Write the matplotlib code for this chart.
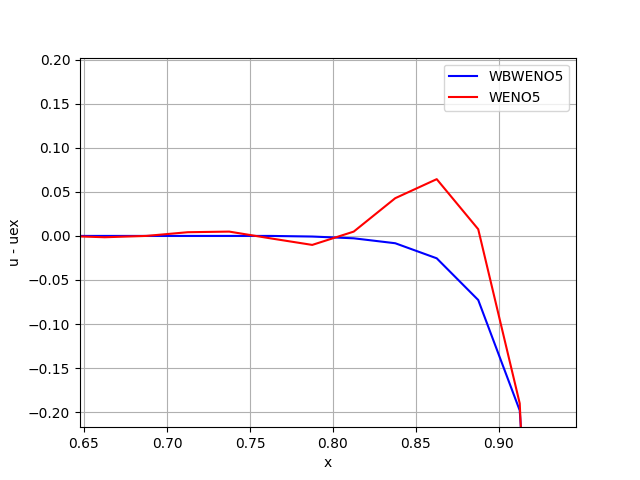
import numpy as np
import matplotlib
matplotlib.use("Agg")
import matplotlib.pyplot as plt

x = [0.6375, 0.6625, 0.6875, 0.7125, 0.7375, 0.7625, 0.7875, 0.8125, 0.8375, 0.8625, 0.8875, 0.9125, 0.9375]
err_wbweno5 = [0.0, 0.0, 0.0, 0.0, 0.0, 0.0, -0.0007, -0.0027, -0.0083, -0.0254, -0.0727, -0.198, -0.9]
err_weno5 = [0.0, -0.0015, 0.0, 0.0042, 0.0049, -0.0028, -0.0102, 0.0049, 0.0428, 0.0644, 0.0076, -0.190, -1.2]

fig, ax = plt.subplots(figsize=(6.4, 4.8), dpi=100)
ax.plot(x, err_wbweno5, color="blue", label="WBWENO5")
ax.plot(x, err_weno5, color="red", label="WENO5")
ax.set_xlim(0.6476, 0.9464)
ax.set_ylim(-0.217, 0.2023)
ax.set_xlabel("x")
ax.set_ylabel("u - uex")
ax.grid(True)
ax.legend(loc="upper right")

plt.savefig("out.png")
